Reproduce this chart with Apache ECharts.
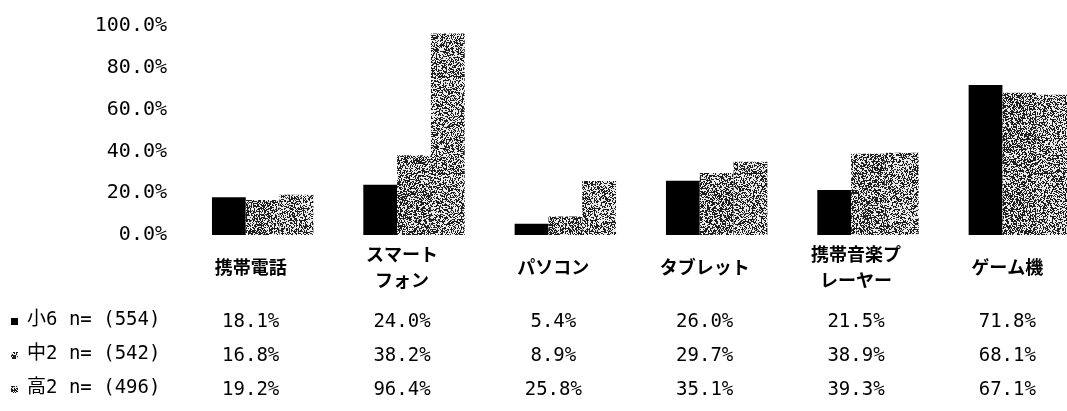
<!DOCTYPE html>
<html><head><meta charset="utf-8">
<script src="https://cdn.jsdelivr.net/npm/echarts@6/dist/echarts.min.js"></script>
<style>html,body{margin:0;padding:0;background:#fff}#c{width:1067px;height:411px}</style>
</head><body><div id="c"></div>
<script>
const categories = ['携帯電話', 'スマート\nフォン', 'パソコン', 'タブレット', '携帯音楽プ\nレーヤー', 'ゲーム機'];
const seriesNames = ['小6', '中2', '高2'];
const sampleSizes = [554, 542, 496];
const grade6 = [18.1, 24.0, 5.4, 26.0, 21.5, 71.8];
const grade8 = [16.8, 38.2, 8.9, 29.7, 38.9, 68.1];
const grade11 = [19.2, 96.4, 25.8, 35.1, 39.3, 67.1];
const yTicks = [0, 20, 40, 60, 80, 100];

const allValues = [grade6, grade8, grade11];

function makePattern(density, seed) {
  const s = 97;
  const c = document.createElement('canvas');
  c.width = s; c.height = s;
  const ctx = c.getContext('2d');
  const img = ctx.createImageData(s, s);
  for (let y = 0; y < s; y++) {
    for (let x = 0; x < s; x++) {
      const v = Math.sin(x * 12.9898 + y * 78.233 + seed) * 43758.5453;
      const h = v - Math.floor(v);
      const dark = h < density;
      const g = dark ? 30 : 235;
      const k = (y * s + x) * 4;
      img.data[k] = g; img.data[k + 1] = g; img.data[k + 2] = g; img.data[k + 3] = 255;
    }
  }
  ctx.putImageData(img, 0, 0);
  return { image: c, repeat: 'repeat' };
}

const fills = ['#000000', makePattern(0.54, 1.7), makePattern(0.46, 5.3)];

const monoFont = '"DejaVu Sans Mono", "Noto Sans CJK JP", monospace';
const cjkFont = '"Noto Sans CJK JP", sans-serif';

const rowMargins = [87, 121, 155];

const xAxes = [{
  type: 'category', data: categories, gridIndex: 0, position: 'bottom',
  axisLine: { show: false }, axisTick: { show: false },
  axisLabel: {
    interval: 0, margin: 32, verticalAlign: 'middle', lineHeight: 26,
    fontFamily: cjkFont, fontSize: 18, fontWeight: 'bold', color: '#000', padding: [0, 24, 0, 0]
  }
}];
allValues.forEach((vals, r) => {
  xAxes.push({
    type: 'category', data: categories, gridIndex: 0, position: 'bottom',
    axisLine: { show: false }, axisTick: { show: false },
    axisLabel: {
      interval: 0, margin: rowMargins[r], verticalAlign: 'middle',
      fontFamily: monoFont, fontSize: 19, color: '#000', padding: [0, 24, 0, 0],
      formatter: (v, i) => vals[i].toFixed(1) + '%'
    }
  });
});

const rowY = [322, 356, 390];
const graphics = [];
seriesNames.forEach((name, r) => {
  graphics.push({
    type: 'rect', left: 11, top: rowY[r] - 4, shape: { width: 7, height: 7 },
    style: { fill: fills[r] }
  });
  graphics.push({
    type: 'text', left: 27, top: rowY[r] - 11,
    style: {
      text: name + ' n= (' + sampleSizes[r] + ')',
      font: '19px ' + monoFont, fill: '#000'
    }
  });
});

const chart = echarts.init(document.getElementById('c'), null, { renderer: 'canvas' });
chart.setOption({
  animation: false,
  backgroundColor: '#fff',
  grid: { left: 187, top: 26, width: 908, height: 209, containLabel: false, outerBoundsMode: 'none' },
  xAxis: xAxes,
  yAxis: {
    type: 'value', min: yTicks[0], max: yTicks[yTicks.length - 1], interval: 20,
    axisLine: { show: false }, axisTick: { show: false }, splitLine: { show: false },
    axisLabel: {
      margin: 20, fontFamily: monoFont, fontSize: 20, color: '#000',
      formatter: v => v.toFixed(1) + '%'
    }
  },
  series: allValues.map((vals, r) => ({
    name: seriesNames[r], type: 'bar', xAxisIndex: 0, data: vals,
    barGap: '0%', barCategoryGap: '33%',
    itemStyle: { color: fills[r] }
  })),
  graphic: graphics
});
</script></body></html>
